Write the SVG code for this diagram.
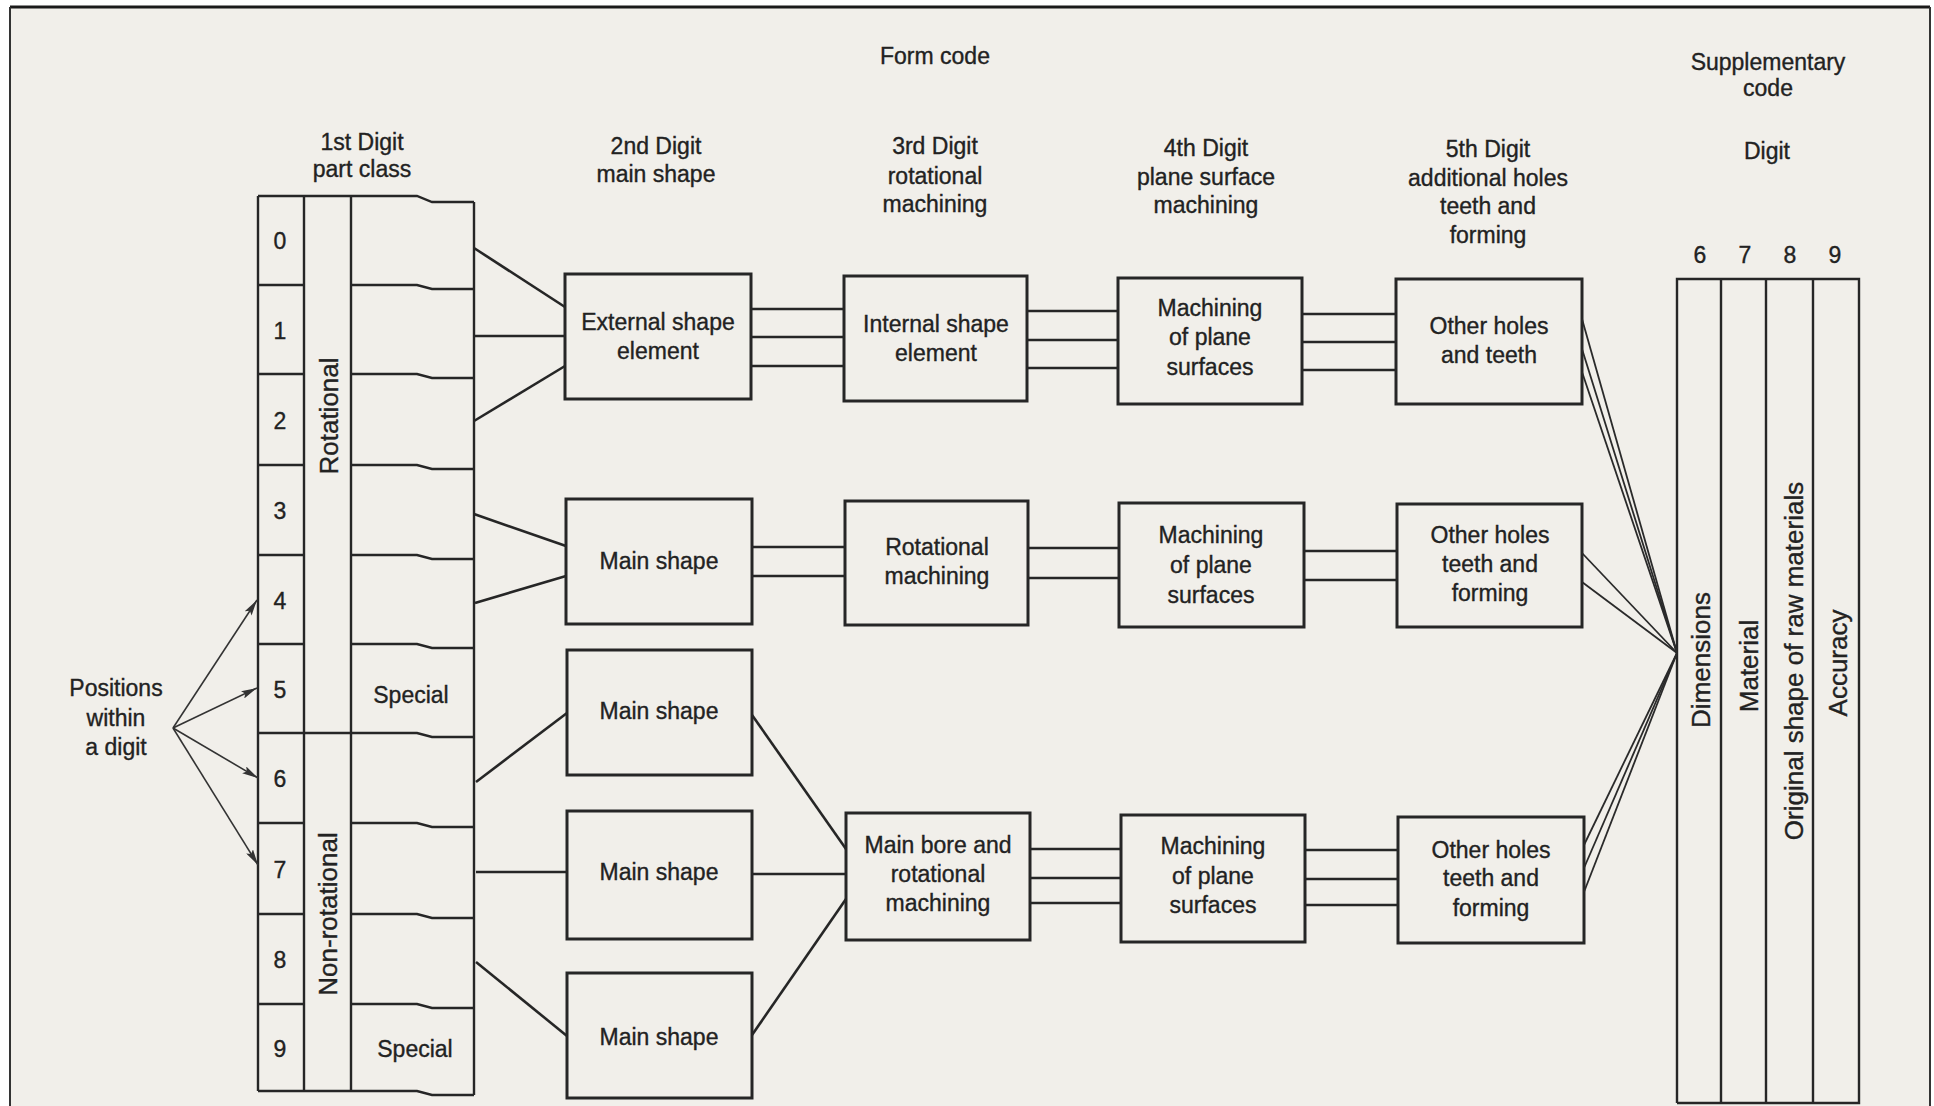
<svg xmlns="http://www.w3.org/2000/svg" width="1934" height="1106" viewBox="0 0 1934 1106">
<defs>
<style>
text{font-family:"Liberation Sans",Arial,sans-serif;font-size:23px;fill:#222;stroke:#222;stroke-width:0.35;text-anchor:middle}
.rot{font-size:26px}
.box{fill:none;stroke:#262626;stroke-width:3}
.ln{fill:none;stroke:#262626;stroke-width:2.6}
.thin{fill:none;stroke:#2a2a2a;stroke-width:1.8}
.tbl{fill:none;stroke:#262626;stroke-width:2.4}
.arr{fill:none;stroke:#333;stroke-width:1.6}
</style>
<marker id="ah" viewBox="0 0 16 8" refX="16" refY="4" markerWidth="16" markerHeight="8" markerUnits="userSpaceOnUse" orient="auto">
<path d="M0,0 L16,4 L0,8 L3,4 z" fill="#333"/>
</marker>
</defs>
<rect x="0" y="0" width="1934" height="1106" fill="#ffffff"/>
<rect x="10" y="7" width="1920" height="1110" fill="#f1efea"/>
<g id="frame">
<line x1="10" y1="7" x2="1930" y2="7" stroke="#1a1a1a" stroke-width="3"/>
<line x1="10" y1="7" x2="10" y2="1106" stroke="#333" stroke-width="2"/>
<line x1="1930" y1="7" x2="1930" y2="1106" stroke="#333" stroke-width="2"/>
</g>

<g id="titles">
<text x="935" y="64">Form code</text>
<text x="362" y="150">1st Digit</text>
<text x="362" y="177">part class</text>
<text x="656" y="154">2nd Digit</text>
<text x="656" y="182">main shape</text>
<text x="935" y="154">3rd Digit</text>
<text x="935" y="184">rotational</text>
<text x="935" y="212">machining</text>
<text x="1206" y="156">4th Digit</text>
<text x="1206" y="185">plane surface</text>
<text x="1206" y="213">machining</text>
<text x="1488" y="157">5th Digit</text>
<text x="1488" y="186">additional holes</text>
<text x="1488" y="214">teeth and</text>
<text x="1488" y="243">forming</text>
<text x="1768" y="70">Supplementary</text>
<text x="1768" y="96">code</text>
<text x="1767" y="159">Digit</text>
<text x="1700" y="263">6</text>
<text x="1745" y="263">7</text>
<text x="1790" y="263">8</text>
<text x="1835" y="263">9</text>
</g>

<g id="first-digit-table">
<line class="tbl" x1="258" y1="196" x2="258" y2="1091"/>
<line class="tbl" x1="304" y1="196" x2="304" y2="1091"/>
<line class="tbl" x1="351" y1="196" x2="351" y2="1091"/>
<line class="tbl" x1="474" y1="202" x2="474" y2="1095"/>
<polyline class="tbl" points="258,196 417,196 432,202 474,202"/>
<polyline class="tbl" points="258,733 417,733 432,737 474,737"/>
<polyline class="tbl" points="258,1091 417,1091 432,1095 474,1095"/>
<line class="tbl" x1="258" y1="285" x2="304" y2="285"/><polyline class="tbl" points="351,285 417,285 432,289 474,289"/>
<line class="tbl" x1="258" y1="374" x2="304" y2="374"/><polyline class="tbl" points="351,374 417,374 432,378 474,378"/>
<line class="tbl" x1="258" y1="465" x2="304" y2="465"/><polyline class="tbl" points="351,465 417,465 432,469 474,469"/>
<line class="tbl" x1="258" y1="555" x2="304" y2="555"/><polyline class="tbl" points="351,555 417,555 432,559 474,559"/>
<line class="tbl" x1="258" y1="644" x2="304" y2="644"/><polyline class="tbl" points="351,644 417,644 432,648 474,648"/>
<line class="tbl" x1="258" y1="823" x2="304" y2="823"/><polyline class="tbl" points="351,823 417,823 432,827 474,827"/>
<line class="tbl" x1="258" y1="914" x2="304" y2="914"/><polyline class="tbl" points="351,914 417,914 432,918 474,918"/>
<line class="tbl" x1="258" y1="1004" x2="304" y2="1004"/><polyline class="tbl" points="351,1004 417,1004 432,1008 474,1008"/>
<text x="280" y="249">0</text>
<text x="280" y="339">1</text>
<text x="280" y="429">2</text>
<text x="280" y="519">3</text>
<text x="280" y="609">4</text>
<text x="280" y="698">5</text>
<text x="280" y="787">6</text>
<text x="280" y="878">7</text>
<text x="280" y="968">8</text>
<text x="280" y="1057">9</text>
<text class="rot" transform="translate(338,416) rotate(-90)">Rotational</text>
<text class="rot" transform="translate(337,914) rotate(-90)">Non-rotational</text>
<text x="411" y="703">Special</text>
<text x="415" y="1057">Special</text>
</g>

<g id="positions-label">
<text x="116" y="696">Positions</text>
<text x="116" y="726">within</text>
<text x="116" y="755">a digit</text>
</g>

<g id="box-A"><rect class="box" x="565" y="274" width="186" height="125"/><text x="658" y="330">External shape</text><text x="658" y="359">element</text></g>
<g id="box-B"><rect class="box" x="566" y="499" width="186" height="125"/><text x="659" y="569">Main shape</text></g>
<g id="box-C"><rect class="box" x="567" y="650" width="185" height="125"/><text x="659" y="719">Main shape</text></g>
<g id="box-D"><rect class="box" x="567" y="811" width="185" height="128"/><text x="659" y="880">Main shape</text></g>
<g id="box-E"><rect class="box" x="567" y="973" width="185" height="125"/><text x="659" y="1045">Main shape</text></g>

<g id="box-F"><rect class="box" x="844" y="276" width="183" height="125"/><text x="936" y="332">Internal shape</text><text x="936" y="361">element</text></g>
<g id="box-G"><rect class="box" x="845" y="501" width="183" height="124"/><text x="937" y="555">Rotational</text><text x="937" y="584">machining</text></g>
<g id="box-H"><rect class="box" x="846" y="813" width="184" height="127"/><text x="938" y="853">Main bore and</text><text x="938" y="882">rotational</text><text x="938" y="911">machining</text></g>

<g id="box-I"><rect class="box" x="1118" y="278" width="184" height="126"/><text x="1210" y="316">Machining</text><text x="1210" y="345">of plane</text><text x="1210" y="375">surfaces</text></g>
<g id="box-J"><rect class="box" x="1119" y="503" width="185" height="124"/><text x="1211" y="543">Machining</text><text x="1211" y="573">of plane</text><text x="1211" y="603">surfaces</text></g>
<g id="box-K"><rect class="box" x="1121" y="815" width="184" height="127"/><text x="1213" y="854">Machining</text><text x="1213" y="884">of plane</text><text x="1213" y="913">surfaces</text></g>

<g id="box-L"><rect class="box" x="1396" y="279" width="186" height="125"/><text x="1489" y="334">Other holes</text><text x="1489" y="363">and teeth</text></g>
<g id="box-M"><rect class="box" x="1397" y="504" width="185" height="123"/><text x="1490" y="543">Other holes</text><text x="1490" y="572">teeth and</text><text x="1490" y="601">forming</text></g>
<g id="box-N"><rect class="box" x="1398" y="817" width="186" height="126"/><text x="1491" y="858">Other holes</text><text x="1491" y="886">teeth and</text><text x="1491" y="916">forming</text></g>

<g id="supplementary-table">
<polyline class="tbl" points="1677,1103 1677,279 1859,279 1859,1103 1677,1103"/>
<line class="tbl" x1="1721" y1="279" x2="1721" y2="1103"/>
<line class="tbl" x1="1766" y1="279" x2="1766" y2="1103"/>
<line class="tbl" x1="1813" y1="279" x2="1813" y2="1103"/>
<text class="rot" transform="translate(1710,660) rotate(-90)">Dimensions</text>
<text class="rot" transform="translate(1758,666) rotate(-90)">Material</text>
<text class="rot" transform="translate(1803,661) rotate(-90)">Original shape of raw materials</text>
<text class="rot" transform="translate(1847,663) rotate(-90)">Accuracy</text>
</g>

<g id="connectors">
<line class="ln" x1="474" y1="248" x2="565" y2="307"/>
<line class="ln" x1="474" y1="336" x2="565" y2="336"/>
<line class="ln" x1="474" y1="421" x2="565" y2="366"/>
<line class="ln" x1="474" y1="514" x2="566" y2="546"/>
<line class="ln" x1="475" y1="603" x2="566" y2="576"/>
<line class="ln" x1="476" y1="782" x2="567" y2="713"/>
<line class="ln" x1="476" y1="872" x2="567" y2="872"/>
<line class="ln" x1="476" y1="962" x2="567" y2="1036"/>

<line class="ln" x1="751" y1="309" x2="844" y2="309"/>
<line class="ln" x1="751" y1="337" x2="844" y2="337"/>
<line class="ln" x1="751" y1="366" x2="844" y2="366"/>
<line class="ln" x1="752" y1="547" x2="845" y2="547"/>
<line class="ln" x1="752" y1="576" x2="845" y2="576"/>
<line class="ln" x1="752" y1="715" x2="846" y2="849"/>
<line class="ln" x1="752" y1="874" x2="846" y2="874"/>
<line class="ln" x1="752" y1="1035" x2="846" y2="899"/>

<line class="ln" x1="1027" y1="311" x2="1118" y2="311"/>
<line class="ln" x1="1027" y1="340" x2="1118" y2="340"/>
<line class="ln" x1="1027" y1="368" x2="1118" y2="368"/>
<line class="ln" x1="1028" y1="548" x2="1119" y2="548"/>
<line class="ln" x1="1028" y1="578" x2="1119" y2="578"/>
<line class="ln" x1="1030" y1="849" x2="1121" y2="849"/>
<line class="ln" x1="1030" y1="878" x2="1121" y2="878"/>
<line class="ln" x1="1030" y1="903" x2="1121" y2="903"/>

<line class="ln" x1="1302" y1="314" x2="1396" y2="314"/>
<line class="ln" x1="1302" y1="342" x2="1396" y2="342"/>
<line class="ln" x1="1302" y1="370" x2="1396" y2="370"/>
<line class="ln" x1="1304" y1="551" x2="1397" y2="551"/>
<line class="ln" x1="1304" y1="580" x2="1397" y2="580"/>
<line class="ln" x1="1305" y1="850" x2="1398" y2="850"/>
<line class="ln" x1="1305" y1="879" x2="1398" y2="879"/>
<line class="ln" x1="1305" y1="905" x2="1398" y2="905"/>

<line class="thin" x1="1582" y1="319" x2="1677" y2="653"/>
<line class="thin" x1="1582" y1="349" x2="1677" y2="653"/>
<line class="thin" x1="1582" y1="372" x2="1677" y2="653"/>
<line class="thin" x1="1582" y1="553" x2="1677" y2="653"/>
<line class="thin" x1="1582" y1="582" x2="1677" y2="653"/>
<line class="thin" x1="1584" y1="845" x2="1677" y2="653"/>
<line class="thin" x1="1584" y1="868" x2="1677" y2="653"/>
<line class="thin" x1="1584" y1="892" x2="1677" y2="653"/>

<line class="arr" x1="173" y1="728" x2="257" y2="600" marker-end="url(#ah)"/>
<line class="arr" x1="173" y1="728" x2="257" y2="688" marker-end="url(#ah)"/>
<line class="arr" x1="173" y1="728" x2="258" y2="778" marker-end="url(#ah)"/>
<line class="arr" x1="173" y1="728" x2="258" y2="865" marker-end="url(#ah)"/>
</g>
</svg>
